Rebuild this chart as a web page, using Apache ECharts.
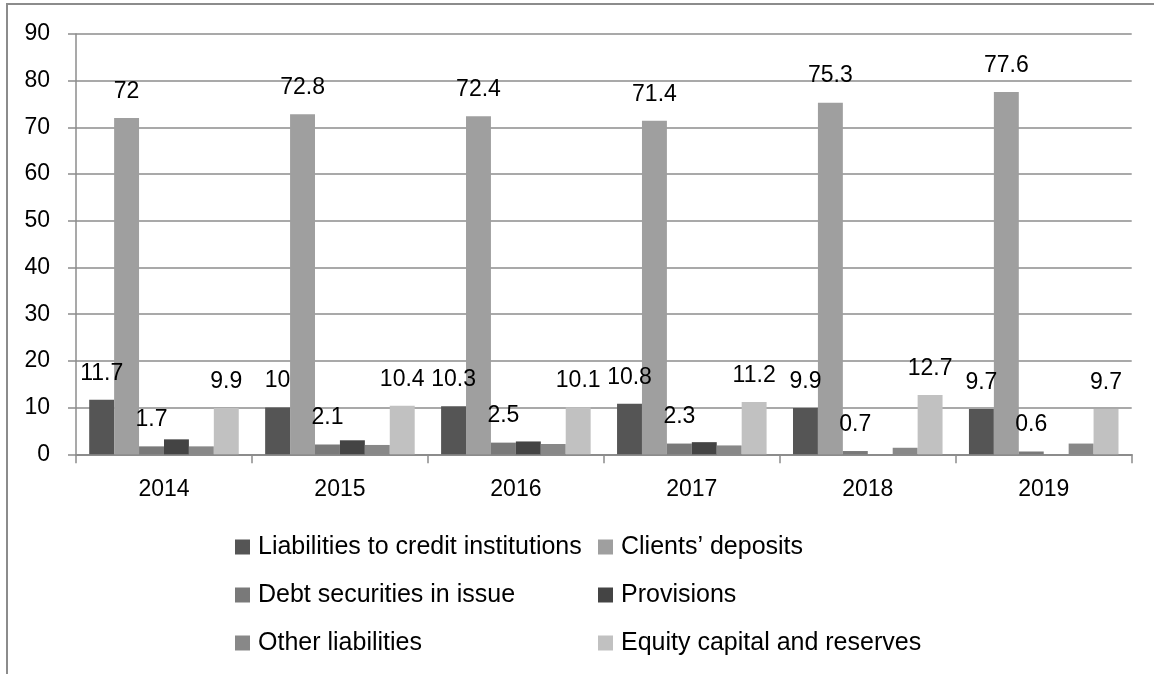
<!DOCTYPE html>
<html>
<head>
<meta charset="utf-8">
<script src="https://cdn.jsdelivr.net/npm/echarts@6/dist/echarts.min.js"></script>
<style>
html,body{margin:0;padding:0;background:#fff;}
#chart{width:1154px;height:674px;}
</style>
</head>
<body>
<div id="chart"></div>
<script>
const categories = ['2014', '2015', '2016', '2017', '2018', '2019'];
const seriesNames = ['Liabilities to credit institutions', 'Clients’ deposits', 'Debt securities in issue', 'Provisions', 'Other liabilities', 'Equity capital and reserves'];
const liabilitiesToCreditInstitutions = [11.7, 10, 10.3, 10.8, 9.9, 9.7];
const clientsDeposits = [72, 72.8, 72.4, 71.4, 75.3, 77.6];
const debtSecurities = [1.7, 2.1, 2.5, 2.3, 0.7, 0.6];
const provisions = [3.2, 3.0, 2.75, 2.6, 0, 0];
const otherLiabilities = [1.7, 2.0, 2.2, 1.9, 1.4, 2.3];
const equityCapital = [9.9, 10.4, 10.1, 11.2, 12.7, 9.7];
const yTicks = [0, 10, 20, 30, 40, 50, 60, 70, 80, 90];

const colors = ['#555555', '#9f9f9f', '#797979', '#444444', '#888888', '#c1c1c1'];
const showLabel = [true, true, true, false, false, true];
const allData = [liabilitiesToCreditInstitutions, clientsDeposits, debtSecurities, provisions, otherLiabilities, equityCapital];
const FONT = '"Liberation Sans", Arial, sans-serif';

const chart = echarts.init(document.getElementById('chart'), null, {renderer: 'canvas'});
const option = {
  animation: false,
  backgroundColor: '#ffffff',
  color: colors,
  graphic: [{
    type: 'rect',
    shape: {x: 7, y: 4, width: 1300, height: 800},
    style: {fill: 'none', stroke: '#8c8c8c', lineWidth: 2},
    silent: true, z: -1
  }],
  grid: {left: 76, right: 22.3, top: 34, bottom: 219.7, containLabel: false},
  legend: [{
    orient: 'vertical', left: 230, top: 529,
    itemWidth: 15, itemHeight: 15, itemGap: 22, icon: 'rect',
    data: [seriesNames[0], seriesNames[2], seriesNames[4]],
    textStyle: {fontFamily: FONT, fontSize: 25, color: '#000', lineHeight: 26, padding: [0, 0, 0, 3]}
  }, {
    orient: 'vertical', left: 593, top: 529,
    itemWidth: 15, itemHeight: 15, itemGap: 22, icon: 'rect',
    data: [seriesNames[1], seriesNames[3], seriesNames[5]],
    textStyle: {fontFamily: FONT, fontSize: 25, color: '#000', lineHeight: 26, padding: [0, 0, 0, 3]}
  }],
  xAxis: {
    type: 'category',
    data: categories,
    boundaryGap: true,
    axisLine: {show: true, lineStyle: {color: '#8c8c8c', width: 2}},
    axisTick: {show: true, length: 9, alignWithLabel: false, lineStyle: {color: '#8c8c8c', width: 1.5}},
    axisLabel: {fontFamily: FONT, fontSize: 23, color: '#000', margin: 24}
  },
  yAxis: {
    type: 'value',
    min: yTicks[0], max: yTicks[yTicks.length - 1], interval: 10,
    axisLine: {show: true, lineStyle: {color: '#8c8c8c', width: 1.5}},
    axisTick: {show: true, length: 8, lineStyle: {color: '#8c8c8c', width: 1.5}},
    splitLine: {show: true, lineStyle: {color: '#8c8c8c', width: 1.5}},
    axisLabel: {fontFamily: FONT, fontSize: 23, color: '#000', margin: 26}
  },
  series: seriesNames.map((name, i) => ({
    name: name,
    type: 'bar',
    data: allData[i],
    barGap: '0%',
    barCategoryGap: '15%',
    itemStyle: {color: colors[i]},
    label: {
      show: showLabel[i],
      position: 'top',
      distance: 15,
      fontFamily: FONT,
      fontSize: 23,
      color: '#000'
    }
  }))
};
chart.setOption(option);
</script>
</body>
</html>
